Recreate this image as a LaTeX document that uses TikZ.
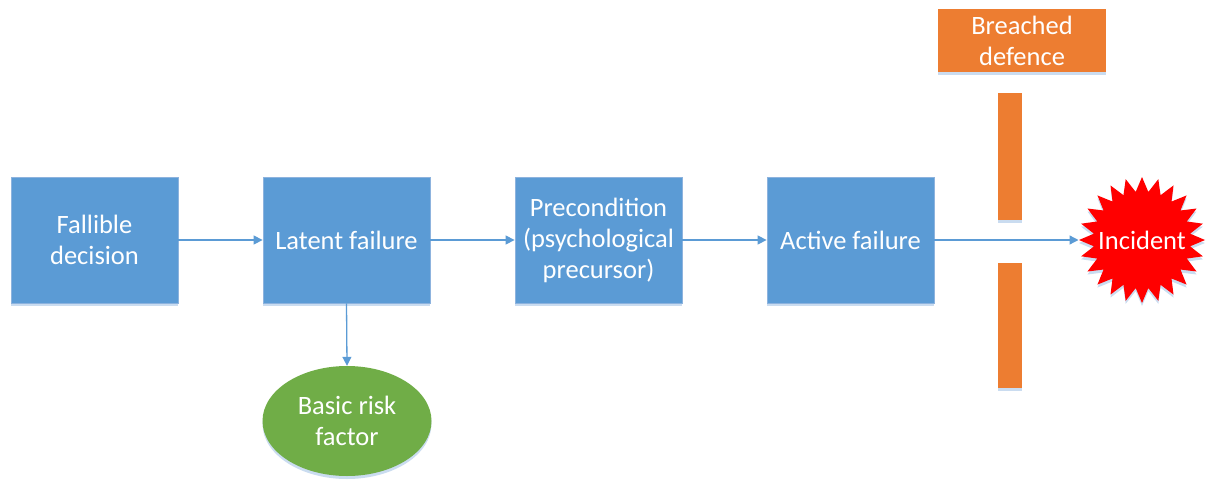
\documentclass[tikz,border=0pt]{standalone}
\usepackage{fontspec}
\setmainfont{Carlito}
\usetikzlibrary{shapes.geometric,arrows.meta,shadows}
\definecolor{boxblue}{HTML}{5B9BD5}
\definecolor{boxedge}{HTML}{8DB3DE}
\definecolor{defenceorange}{HTML}{ED7D31}
\definecolor{riskgreen}{HTML}{70AD47}
\definecolor{incidentred}{HTML}{FF0000}
\definecolor{shade}{HTML}{BDD3EC}
\begin{document}
\begin{tikzpicture}[x=1pt,y=-1pt,
  every node/.style={font=\fontsize{26.5}{31}\selectfont, text=white, align=center, inner sep=0pt},
  softshadow/.style={drop shadow={shadow xshift=0pt, shadow yshift=-3pt, fill=shade, opacity=0.8}},
  stage/.style={rectangle, fill=boxblue, draw=boxedge, line width=0.8pt,
    minimum width=167pt, minimum height=126pt, softshadow},
  barrier/.style={rectangle, fill=defenceorange, draw=none, softshadow},
  flow/.style={draw=boxblue, line width=1.3pt, -{Triangle[length=9pt,width=9pt]}}
]
\useasboundingbox (0,0) rectangle (1214,479);

% main chain of stages
\node[stage] (fallible) at (94.5,240) {Fallible\\decision};
\node[stage] (latent)   at (346.5,240) {Latent failure};
\node[stage] (precond)  at (598.5,240) {Precondition\\(psychological\\precursor)};
\node[stage] (active)   at (850.5,240) {Active failure};

% root cause below the latent failure
\node[ellipse, fill=riskgreen, draw=none, minimum width=169pt, minimum height=110pt, softshadow]
  (risk) at (347,421) {Basic risk\\factor};

% defence layer with its gap
\node[barrier, minimum width=168pt, minimum height=63pt] (breached) at (1022,40.5) {Breached\\defence};
\node[barrier, minimum width=24pt, minimum height=127pt] (upper) at (1010,156.5) {};
\node[barrier, minimum width=24pt, minimum height=125pt] (lower) at (1010,325.5) {};

% outcome
\node[star, star points=24, star point ratio=1.3, fill=incidentred, draw=none,
  minimum size=126pt, softshadow] (incident) at (1142,240) {};
\node (incidentlabel) at (incident.center) {Incident};

% connectors
\draw[flow] (fallible.east) -- (latent.west);
\draw[flow] (latent.east) -- (precond.west);
\draw[flow] (precond.east) -- (active.west);
\draw[flow] (active.east) -- (incident.west);
\draw[flow] (latent.south) -- (risk.north);
\end{tikzpicture}
\end{document}
